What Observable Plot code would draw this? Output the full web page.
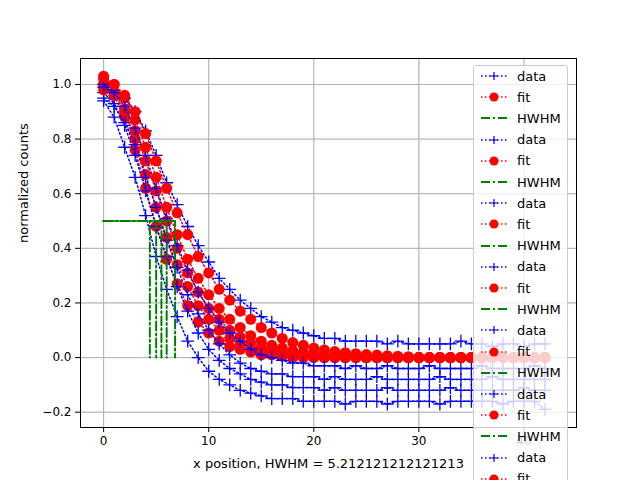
<!DOCTYPE html>
<html><head><meta charset="utf-8">
<script src="https://cdn.jsdelivr.net/npm/d3@7"></script>
<script src="https://cdn.jsdelivr.net/npm/@observablehq/plot@0.6"></script>
<style>
body{margin:0;background:#fff;font-family:"DejaVu Sans",sans-serif;}
#wrap{position:relative;width:640px;height:480px;overflow:hidden;}
#legend{position:absolute;left:473px;top:65px;width:95px;height:430px;background:rgba(255,255,255,0.8);border:1px solid #ccc;border-radius:3px;box-sizing:border-box;}
.item{position:absolute;left:6px;height:20px;display:flex;align-items:center;font-size:13px;color:#000;}
.item svg{margin-right:9px;}
</style></head>
<body><div id="wrap"><div id="chart"></div><div id="legend"></div></div>
<script>
// posiciones x (0..42)
const xs = d3.range(0, 43)
const hwhms = [4.4, 5.0, 5.5, 6.0, 6.8]
const fits = [
  [1.00,0.96,0.88,0.76,0.62,0.48,0.36,0.27,0.19,0.13,0.09,0.06,0.04,0.03,0.02,0.01,0.01,0.005,0,0,0,0,0,0,0,0,0,0,0,0,0,0,0,0,0,0,0,0,0,0,0,0,0],
  [1.00,0.97,0.90,0.80,0.67,0.55,0.44,0.34,0.26,0.19,0.14,0.10,0.07,0.05,0.035,0.025,0.018,0.012,0.008,0.005,0.003,0,0,0,0,0,0,0,0,0,0,0,0,0,0,0,0,0,0,0,0,0,0],
  [0.98,0.96,0.91,0.83,0.72,0.61,0.50,0.40,0.31,0.24,0.18,0.14,0.10,0.075,0.055,0.04,0.03,0.02,0.015,0.01,0.007,0.005,0.003,0,0,0,0,0,0,0,0,0,0,0,0,0,0,0,0,0,0,0,0],
  [1.02,1.00,0.95,0.87,0.77,0.66,0.55,0.45,0.36,0.29,0.23,0.18,0.14,0.11,0.08,0.06,0.045,0.035,0.025,0.02,0.015,0.01,0.008,0.006,0.004,0,0,0,0,0,0,0,0,0,0,0,0,0,0,0,0,0,0],
  [1.03,1.00,0.96,0.90,0.82,0.72,0.62,0.53,0.45,0.37,0.31,0.25,0.21,0.17,0.14,0.11,0.09,0.07,0.055,0.045,0.035,0.028,0.022,0.018,0.014,0.011,0.009,0.007,0.005,0.003,0,0,0,0,0,0,0,0,0,0,0,0,0]
]
const datas = [
  [0.94,0.88,0.77,0.66,0.52,0.37,0.25,0.15,0.06,0.00,-0.05,-0.08,-0.10,-0.12,-0.13,-0.14,-0.15,-0.15,-0.15,-0.16,-0.16,-0.16,-0.16,-0.17,-0.16,-0.16,-0.16,-0.17,-0.16,-0.16,-0.16,-0.16,-0.17,-0.16,-0.16,-0.16,-0.16,-0.16,-0.17,-0.16,-0.16,-0.16,-0.19],
  [0.97,0.93,0.85,0.74,0.61,0.48,0.37,0.26,0.17,0.09,0.03,-0.01,-0.04,-0.06,-0.08,-0.09,-0.10,-0.10,-0.11,-0.11,-0.11,-0.12,-0.11,-0.12,-0.12,-0.12,-0.12,-0.11,-0.12,-0.12,-0.12,-0.12,-0.12,-0.11,-0.12,-0.12,-0.12,-0.12,-0.12,-0.12,-0.11,-0.12,-0.12],
  [0.95,0.92,0.86,0.78,0.66,0.55,0.43,0.33,0.23,0.16,0.10,0.05,0.01,-0.02,-0.04,-0.05,-0.06,-0.06,-0.07,-0.07,-0.07,-0.08,-0.07,-0.08,-0.08,-0.08,-0.07,-0.08,-0.08,-0.08,-0.08,-0.08,-0.07,-0.08,-0.08,-0.08,-0.08,-0.07,-0.08,-0.08,-0.08,-0.08,-0.08],
  [0.99,0.97,0.92,0.84,0.74,0.62,0.51,0.41,0.32,0.24,0.18,0.13,0.09,0.06,0.03,0.01,0.00,-0.01,-0.02,-0.02,-0.03,-0.03,-0.03,-0.04,-0.03,-0.04,-0.04,-0.03,-0.04,-0.04,-0.04,-0.03,-0.04,-0.04,-0.04,-0.04,-0.03,-0.04,-0.04,-0.04,-0.04,-0.03,-0.04],
  [1.00,0.98,0.95,0.90,0.83,0.74,0.64,0.56,0.48,0.41,0.35,0.29,0.25,0.21,0.18,0.15,0.13,0.11,0.10,0.09,0.08,0.07,0.07,0.06,0.06,0.06,0.06,0.05,0.06,0.05,0.05,0.05,0.05,0.05,0.06,0.05,0.05,0.04,0.05,0.05,0.04,0.05,0.05]
]
const legendLabels = ['data', 'fit', 'HWHM']

const marks = []
hwhms.forEach((h, k) => {
  const d = datas[k].map((y, i) => ({x: xs[i], y}))
  const f = fits[k].map((y, i) => ({x: xs[i], y}))
  marks.push(Plot.line(d, {x: 'x', y: 'y', stroke: 'blue', strokeWidth: 1.5, strokeDasharray: '1.5,2.5'}))
  marks.push(Plot.dot(d, {x: 'x', y: 'y', symbol: 'plus', stroke: 'blue', r: 4.2, strokeWidth: 1.3}))
  marks.push(Plot.line(f, {x: 'x', y: 'y', stroke: 'red', strokeWidth: 1.5, strokeDasharray: '1.5,2.5'}))
  marks.push(Plot.dot(f, {x: 'x', y: 'y', fill: 'red', r: 5.5}))
  const hw = [{x: 0, y: 0.5}, {x: h, y: 0.5}, {x: h, y: 0}]
  marks.push(Plot.line(hw, {x: 'x', y: 'y', stroke: 'green', strokeWidth: 2, strokeDasharray: '9,3,2,3'}))
})

const chart = Plot.plot({
  width: 640, height: 480,
  marginLeft: 80, marginRight: 64, marginTop: 58, marginBottom: 53,
  style: {fontFamily: 'DejaVu Sans', fontSize: '12px', background: 'white'},
  x: {domain: [-2.2, 45.0], ticks: [0, 10, 20, 30, 40], tickSize: 5, grid: true, label: null},
  y: {domain: [-0.256, 1.095], ticks: [-0.2, 0, 0.2, 0.4, 0.6, 0.8, 1.0], tickFormat: d3.format('.1f'), tickSize: 5, grid: true, label: null},
  marks: [
    Plot.gridX([0, 10, 20, 30, 40], {stroke: '#b0b0b0', strokeOpacity: 1}),
    Plot.gridY([-0.2, 0, 0.2, 0.4, 0.6, 0.8, 1.0], {stroke: '#b0b0b0', strokeOpacity: 1}),
    ...marks,
    Plot.frame({stroke: 'black'}),
    Plot.text(['x position, HWHM = 5.212121212121213'], {frameAnchor: 'bottom', dy: 40, fontSize: 13}),
    Plot.text(['normalized counts'], {frameAnchor: 'left', dx: -57, rotate: -90, fontSize: 13})
  ]
})
d3.select('#chart').append(() => chart)

// leyenda (desborda la figura como en el original)
const lg = d3.select('#legend')
for (let i = 0; i < 20; i++) {
  const lab = legendLabels[i % 3]
  const it = lg.append('div').attr('class', 'item').style('top', (i * 21.2) + 'px')
  const s = it.append('svg').attr('width', 28).attr('height', 12)
  if (lab === 'data') {
    s.append('line').attr('x1', 1).attr('x2', 27).attr('y1', 6).attr('y2', 6).attr('stroke', 'blue').attr('stroke-width', 1.5).attr('stroke-dasharray', '1.5,2.5')
    s.append('path').attr('d', 'M10,6h8M14,2v8').attr('stroke', 'blue').attr('stroke-width', 1.2)
  } else if (lab === 'fit') {
    s.append('line').attr('x1', 1).attr('x2', 27).attr('y1', 6).attr('y2', 6).attr('stroke', 'red').attr('stroke-width', 1.5).attr('stroke-dasharray', '1.5,2.5')
    s.append('circle').attr('cx', 14).attr('cy', 6).attr('r', 4.5).attr('fill', 'red')
  } else {
    s.append('line').attr('x1', 1).attr('x2', 27).attr('y1', 6).attr('y2', 6).attr('stroke', 'green').attr('stroke-width', 2).attr('stroke-dasharray', '9,3,2,3')
  }
  it.append('span').text(lab)
}
</script></body></html>
